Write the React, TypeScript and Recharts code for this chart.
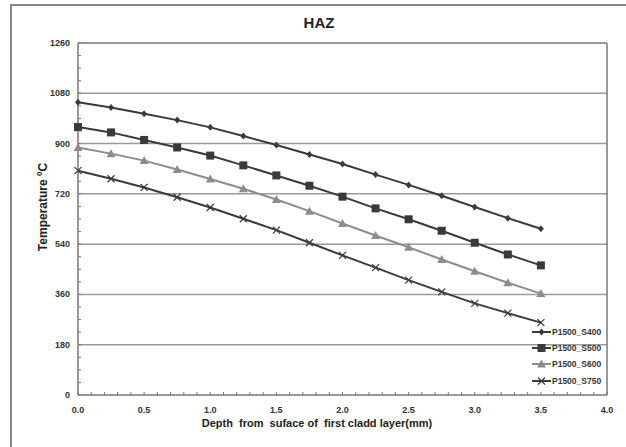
import { LineChart, Line, XAxis, YAxis, CartesianGrid, ReferenceLine } from 'recharts';

// depth (mm) and temperature (°C)
const depths = [0, 0.25, 0.5, 0.75, 1, 1.25, 1.5, 1.75, 2, 2.25, 2.5, 2.75, 3, 3.25, 3.5];
const s400 = [1048, 1029, 1007, 984, 958, 927, 895, 861, 827, 789, 752, 713, 673, 633, 595];
const s500 = [959, 940, 913, 886, 857, 822, 786, 749, 710, 668, 629, 588, 545, 503, 464];
const s600 = [886, 864, 839, 807, 773, 738, 700, 658, 614, 571, 529, 485, 443, 402, 363];
const s750 = [803, 774, 743, 708, 671, 631, 590, 545, 500, 456, 411, 369, 328, 293, 259];

const yMajor = [0, 180, 360, 540, 720, 900, 1080, 1260];
// minor tick marks: every 45 on y, every 0.1 on x
const yTicks = Array.from({ length: 29 }, (_, i) => i * 45);
const xTicks = Array.from({ length: 41 }, (_, i) => Math.round(i) / 10);

const DARK = '#3a3a3a';
const GREY = '#8c8c8c';
const FONT = '"Liberation Sans", Arial, sans-serif';

const data = depths.map((d, i) => ({
  x: d,
  s400: s400[i],
  s500: s500[i],
  s600: s600[i],
  s750: s750[i],
}));

type Shape = 'diamond' | 'square' | 'triangle' | 'cross';

const marker = (shape: Shape, color: string, cx: number, cy: number, key?: any) => {
  if (shape === 'diamond')
    return <path key={key} d={`M${cx},${cy - 3.5}L${cx + 3},${cy}L${cx},${cy + 3.5}L${cx - 3},${cy}Z`} fill={color} />;
  if (shape === 'square')
    return <rect key={key} x={cx - 4} y={cy - 4} width={8} height={8} fill={color} />;
  if (shape === 'triangle')
    return <path key={key} d={`M${cx},${cy - 4.5}L${cx + 4.5},${cy + 3.5}L${cx - 4.5},${cy + 3.5}Z`} fill={color} />;
  return (
    <g key={key}>
      <line x1={cx - 3.5} y1={cy - 3.5} x2={cx + 3.5} y2={cy + 3.5} stroke={color} strokeWidth={1.2} />
      <line x1={cx - 3.5} y1={cy + 3.5} x2={cx + 3.5} y2={cy - 3.5} stroke={color} strokeWidth={1.2} />
    </g>
  );
};

const series: { key: string; name: string; color: string; shape: Shape }[] = [
  { key: 's400', name: 'P1500_S400', color: DARK, shape: 'diamond' },
  { key: 's500', name: 'P1500_S500', color: DARK, shape: 'square' },
  { key: 's600', name: 'P1500_S600', color: GREY, shape: 'triangle' },
  { key: 's750', name: 'P1500_S750', color: DARK, shape: 'cross' },
];

const XTick = (props: any) => {
  const { x, y, payload } = props;
  const v = payload.value;
  const major = Math.round(v * 10) % 5 === 0;
  return (
    <g>
      <line x1={x} y1={y - 3} x2={x} y2={y} stroke="#777" strokeWidth={1} />
      {major && (
        <text x={x} y={y + 18} textAnchor="middle" fontSize={9} fontWeight="bold" fill="#333" fontFamily={FONT}>
          {v.toFixed(1)}
        </text>
      )}
    </g>
  );
};

const YTick = (props: any) => {
  const { x, y, payload } = props;
  const v = payload.value;
  const major = v % 180 === 0;
  return (
    <g>
      <line x1={x} y1={y} x2={x + 3} y2={y} stroke="#777" strokeWidth={1} />
      {major && (
        <text x={x - 8} y={y + 3} textAnchor="end" fontSize={9} fontWeight="bold" fill="#333" fontFamily={FONT}>
          {v}
        </text>
      )}
    </g>
  );
};

export default function App() {
  return (
    <div style={{ position: 'absolute', left: 0, top: 0, width: 626, height: 447, background: '#fff', overflow: 'hidden', fontFamily: FONT }}>
      <div
        style={{
          position: 'absolute',
          left: 10,
          top: 4,
          width: 640,
          height: 460,
          borderLeft: '2px solid #888',
          borderTop: '2px solid #888',
        }}
      />
      <div style={{ position: 'absolute', left: 0, width: 638, top: 14, textAlign: 'center', fontSize: 15, fontWeight: 'bold', color: '#222' }}>
        HAZ
      </div>
      <LineChart width={626} height={447} data={data} margin={{ top: 43, right: 19, left: 0, bottom: 0 }} style={{ position: 'absolute', left: 0, top: 0 }}>
        <CartesianGrid vertical={false} horizontalValues={yMajor.slice(1, -1)} stroke="#9a9a9a" strokeWidth={1.5} />
        <ReferenceLine y={1260} stroke="#777" strokeWidth={1.5} />
        <ReferenceLine x={4} stroke="#777" strokeWidth={1.5} />
        <XAxis
          dataKey="x"
          type="number"
          domain={[0, 4]}
          ticks={xTicks}
          interval={0}
          tickSize={0}
          tickMargin={0}
          tickLine={false}
          axisLine={{ stroke: '#777', strokeWidth: 1.5 }}
          height={52}
          tick={<XTick />}
          label={{
            content: () => (
              <text x={317} y={427} textAnchor="middle" fontSize={11} fontWeight="bold" fill="#222" fontFamily={FONT} style={{ whiteSpace: 'pre' }}>
                {'Depth  from  suface of  first cladd layer(mm)'}
              </text>
            ),
          }}
        />
        <YAxis
          type="number"
          domain={[0, 1260]}
          ticks={yTicks}
          interval={0}
          tickSize={0}
          tickMargin={0}
          tickLine={false}
          axisLine={{ stroke: '#777', strokeWidth: 1.5 }}
          width={78}
          tick={<YTick />}
          label={{
            content: () => (
              <text x={47} y={207} transform="rotate(-90 47 207)" textAnchor="middle" fontSize={12} fontWeight="bold" fill="#222" fontFamily={FONT}>
                Temperature{' '}
                <tspan fontSize={8} dy={-5}>0</tspan>
                <tspan dy={5}>C</tspan>
              </text>
            ),
          }}
        />
        {series.map((s) => (
          <Line
            key={s.key}
            dataKey={s.key}
            name={s.name}
            type="linear"
            stroke={s.color}
            strokeWidth={2}
            isAnimationActive={false}
            dot={(p: any) => marker(s.shape, s.color, p.cx, p.cy, p.index)}
          />
        ))}
      </LineChart>
      <div style={{ position: 'absolute', left: 532, top: 324 }}>
        {series.map((s) => (
          <div key={s.key} style={{ display: 'flex', alignItems: 'center', height: 16.2 }}>
            <svg width={19} height={10}>
              <line x1={0} y1={5} x2={19} y2={5} stroke={s.color} strokeWidth={2} />
              {marker(s.shape, s.color, 9.5, 5)}
            </svg>
            <span style={{ fontSize: 8.5, fontWeight: 'bold', color: '#333', marginLeft: 1 }}>{s.name}</span>
          </div>
        ))}
      </div>
    </div>
  );
}
